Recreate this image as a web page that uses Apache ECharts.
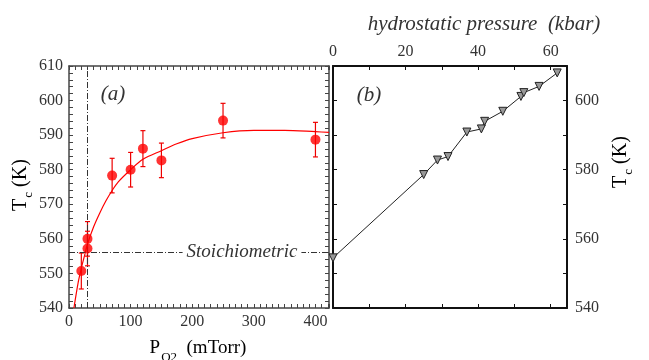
<!DOCTYPE html>
<html><head><meta charset="utf-8">
<script src="https://cdn.jsdelivr.net/npm/echarts@6/dist/echarts.min.js"></script>
<style>html,body{margin:0;padding:0;background:#fff}#c{width:649px;height:360px}</style>
</head><body><div id="c"></div>
<script>
// Panel (a): Tc vs oxygen partial pressure
const pO2 = [20, 30, 30, 70, 100, 120, 150, 250, 400];
const tcO2 = [550.7, 560.0, 557.2, 578.3, 580.0, 586.1, 582.7, 594.2, 588.7];
const tcErr = [5.2, 5, 5, 5, 5, 5.2, 5, 5, 5];
// red guide curve
const fitX = [8, 15, 20, 25, 30, 40, 50, 60, 70, 80, 100, 120, 150, 175, 200, 250, 300, 350, 400, 422];
const fitY = [540, 547.5, 551.5, 555, 558.5, 563.5, 567.5, 571, 574, 576.5, 580, 583, 585.5, 587.5, 589, 590.7, 591.4, 591.4, 591.0, 590.8];
const stoichP = 30;
const stoichTc = 556;
// Panel (b): Tc vs hydrostatic pressure
const pressure = [0, 25, 28.8, 31.7, 36.9, 40.9, 41.8, 46.8, 51.8, 52.6, 56.8, 61.8];
const tcPressure = [554.5, 578.6, 582.8, 583.8, 590.9, 591.8, 594.0, 596.9, 601.2, 602.3, 604.1, 608.0];
// tick labels
const xLabelsA = [0, 100, 200, 300, 400];
const yLabelsA = [540, 550, 560, 570, 580, 590, 600, 610];
const xLabelsB = [0, 20, 40, 60];
const yLabelsB = [540, 560, 580, 600];

const FONT = '"Liberation Serif", "Times New Roman", serif';
const chart = echarts.init(document.getElementById('c'), null, {renderer: 'canvas'});

function axis(o) {
  const labels = o.labels || [];
  return Object.assign({
    type: 'value', min: o.min, max: o.max, interval: o.interval,
    gridIndex: o.grid, position: o.position,
    axisLine: {show: true, onZero: false, lineStyle: {color: o.lineColor, width: o.lineWidth}},
    axisTick: {show: true, inside: true, length: 4, lineStyle: {color: o.lineColor, width: 1}},
    minorTick: {show: false},
    splitLine: {show: false},
    axisLabel: {
      show: labels.length > 0, margin: o.margin || 6,
      color: '#333', fontFamily: FONT, fontSize: 16,
      showMinLabel: true, showMaxLabel: true,
      formatter: v => (labels.indexOf(Math.round(v * 1000) / 1000) >= 0 ? String(v) : '')
    }
  });
}

const cA = '#444', cB = '#111';
const option = {
  animation: false,
  backgroundColor: '#fff',
  grid: [
    {left: 69, top: 66, width: 260, height: 242},
    {left: 333, top: 66, width: 234, height: 242}
  ],
  xAxis: [
    axis({grid: 0, position: 'bottom', min: 0, max: 422, interval: 10, labels: xLabelsA, lineColor: cA, lineWidth: 1.5}),
    axis({grid: 0, position: 'top', min: 0, max: 422, interval: 10, lineColor: cA, lineWidth: 1.5}),
    axis({grid: 1, position: 'top', min: 0, max: 64.5, interval: 10, labels: xLabelsB, lineColor: cB, lineWidth: 2}),
    axis({grid: 1, position: 'bottom', min: 0, max: 64.5, interval: 10, lineColor: cB, lineWidth: 2})
  ],
  yAxis: [
    axis({grid: 0, position: 'left', min: 540, max: 610, interval: 2, labels: yLabelsA, lineColor: cA, lineWidth: 1.5}),
    axis({grid: 0, position: 'right', min: 540, max: 610, interval: 2, lineColor: cA, lineWidth: 1.5}),
    axis({grid: 1, position: 'right', min: 540, max: 610, interval: 10, labels: yLabelsB, lineColor: cB, lineWidth: 2, margin: 8}),
    axis({grid: 1, position: 'left', min: 540, max: 610, interval: 10, lineColor: cB, lineWidth: 2})
  ],
  series: [
    {
      type: 'line', xAxisIndex: 0, yAxisIndex: 0, smooth: 0.3, showSymbol: false, symbol: 'none',
      clip: true, z: 3,
      lineStyle: {color: '#f00', width: 1.2},
      data: fitX.map((x, i) => [x, fitY[i]]),
      markLine: {
        silent: true, symbol: 'none', animation: false,
        label: {show: false},
        lineStyle: {color: '#333', width: 1, type: [6, 2, 1, 2]},
        data: [{xAxis: stoichP}, {yAxis: stoichTc}]
      }
    },
    {
      type: 'custom', xAxisIndex: 0, yAxisIndex: 0, z: 4,
      data: pO2.map((x, i) => [x, tcO2[i], tcErr[i]]),
      renderItem: (params, api) => {
        const x = api.value(0), y = api.value(1), e = api.value(2);
        const top = api.coord([x, y + e]), bot = api.coord([x, y - e]);
        const w = 2.5;
        const st = {stroke: '#e00', lineWidth: 1.2};
        return {type: 'group', children: [
          {type: 'line', shape: {x1: top[0], y1: top[1], x2: bot[0], y2: bot[1]}, style: st},
          {type: 'line', shape: {x1: top[0] - w, y1: top[1], x2: top[0] + w, y2: top[1]}, style: st},
          {type: 'line', shape: {x1: bot[0] - w, y1: bot[1], x2: bot[0] + w, y2: bot[1]}, style: st}
        ]};
      }
    },
    {
      type: 'scatter', xAxisIndex: 0, yAxisIndex: 0, z: 5,
      symbol: 'circle', symbolSize: 10,
      itemStyle: {color: '#f00'},
      data: pO2.map((x, i) => [x, tcO2[i]])
    },
    {
      type: 'line', xAxisIndex: 2, yAxisIndex: 2, z: 5,
      symbol: 'triangle', symbolRotate: 180, symbolSize: 8, showSymbol: true,
      lineStyle: {color: '#222', width: 1},
      itemStyle: {color: '#999', borderColor: '#222', borderWidth: 1},
      data: pressure.map((x, i) => [x, tcPressure[i]])
    }
  ],
  graphic: [
    {type: 'text', x: 113, y: 94, z: 100, style: {text: '(a)', font: 'italic 21px ' + FONT, fill: '#333', align: 'center', verticalAlign: 'middle'}},
    {type: 'text', x: 369, y: 95, z: 100, style: {text: '(b)', font: 'italic 21px ' + FONT, fill: '#333', align: 'center', verticalAlign: 'middle'}},
    {type: 'text', x: 242, y: 252, z: 100, style: {text: 'Stoichiometric', font: 'italic 19px ' + FONT, fill: '#333', align: 'center', verticalAlign: 'middle', backgroundColor: '#fff', padding: [0, 4]}},
    {type: 'text', x: 484, y: 24, z: 100, style: {text: 'hydrostatic pressure  (kbar)', font: 'italic 21px ' + FONT, fill: '#333', align: 'center', verticalAlign: 'middle'}},
    {type: 'text', x: 21, y: 185, rotation: Math.PI / 2, z: 100, style: {
      text: '{a|T}{s|c}{a| (K)}', align: 'center', verticalAlign: 'middle',
      rich: {a: {fontFamily: FONT, fontSize: 20, color: '#333'}, s: {fontFamily: FONT, fontSize: 13, color: '#333', padding: [16, 0, 0, 1]}}}},
    {type: 'text', x: 621, y: 162, rotation: Math.PI / 2, z: 100, style: {
      text: '{a|T}{s|c}{a| (K)}', align: 'center', verticalAlign: 'middle',
      rich: {a: {fontFamily: FONT, fontSize: 20, color: '#333'}, s: {fontFamily: FONT, fontSize: 13, color: '#333', padding: [16, 0, 0, 1]}}}},
    {type: 'text', x: 198, y: 348, z: 100, style: {
      text: '{a|P}{s|O2}{a|  (mTorr)}', align: 'center', verticalAlign: 'middle',
      rich: {a: {fontFamily: FONT, fontSize: 19, color: '#333'}, s: {fontFamily: FONT, fontSize: 13, color: '#333', padding: [20, 0, 0, 1]}}}}
  ]
};
chart.setOption(option);
</script>
</body></html>
